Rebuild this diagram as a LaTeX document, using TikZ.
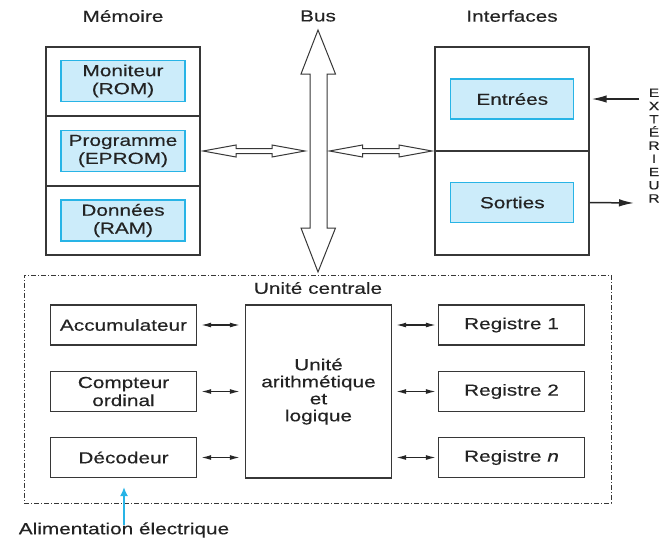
\documentclass[tikz,border=0pt]{standalone}
\usepackage{fontspec}
\setmainfont{Liberation Sans}[FakeStretch=1.3,FakeBold=0.35]
\usetikzlibrary{arrows.meta}
\definecolor{txt}{RGB}{35,35,35}
\definecolor{ln}{RGB}{55,55,55}
\definecolor{lblue}{RGB}{204,236,250}
\definecolor{cyanb}{RGB}{40,180,230}
\newcommand\hollowH[3]{%
  \draw[hollow] (#1,#3) -- ++(33,-6) -- ++(0,3.5) -- ({#2-33},{#3-2.5}) -- ++(0,-3.5)
    -- (#2,#3) -- ++(-33,6) -- ++(0,-3.5) -- ({#1+33},{#3+2.5}) -- ++(0,3.5) -- cycle;}
\begin{document}
\begin{tikzpicture}[x=1pt,y=-1pt,
  lbl/.style={text=txt, font=\fontsize{16}{18}\selectfont, inner sep=0pt, align=center},
  frame/.style={draw=ln, line width=1.3pt, minimum width=154pt, minimum height=208pt, inner sep=0pt},
  bluebox/.style={lbl, draw=cyanb, fill=lblue, line width=1.2pt, minimum width=124pt, minimum height=41pt},
  box/.style={lbl, draw=ln, line width=1.3pt, minimum width=146pt, minimum height=40pt},
  hollow/.style={draw=ln, fill=white, line width=1pt, line join=miter},
  sarrow/.style={draw=black!85, line width=1.3pt, {Latex[length=10pt,width=5pt]}-{Latex[length=10pt,width=5pt]}},
  earrow/.style={draw=black!85, line width=1.5pt, -{Latex[length=15pt,width=7.5pt]}}]
\useasboundingbox (0,0) rectangle (659,539);
\clip (0,0) rectangle (659,539);
% titles
\node[lbl] (tmem) at (123,16) {Mémoire};
\node[lbl] (tbus) at (318,16) {Bus};
\node[lbl] (tint) at (512,16) {Interfaces};
% memory
\node[frame] (mem) at (123,151) {};
\draw[ln, line width=1.3pt] (46,116) -- (200,116) (46,186) -- (200,186);
\node[bluebox] (mon) at (123,81) {Moniteur\\(ROM)};
\node[bluebox] (prog) at (123,151) {Programme\\(EPROM)};
\node[bluebox] (don) at (123,220.5) {Données\\(RAM)};
% interfaces
\node[frame] (int) at (512,151) {};
\draw[ln, line width=1.3pt] (int.west |- 0,151) -- (int.east |- 0,151);
\node[bluebox, minimum width=123pt, minimum height=40pt] (ent) at (512.3,99) {Entrées};
\node[bluebox, minimum width=123pt, minimum height=40pt] (sor) at (512.3,202.5) {Sorties};
% bus
\draw[hollow] (318,30) -- (335.5,74) -- (327,74) -- (327,228) -- (335.5,228) -- (318,272)
  -- (301,228) -- (310,228) -- (310,74) -- (301,74) -- cycle;
\hollowH{203}{305}{151}
\hollowH{329.5}{432}{151}
% exterior
\draw[earrow] (639,99) -- ([xshift=2pt]int.east |- ent.east);
\draw[earrow] (int.east |- sor.east) -- (634,203);
\node[text=txt, font=\fontsize{12}{13.2}\selectfont, inner sep=0pt, align=center, anchor=north] (ext) at (654,88.5)
  {E\\X\\T\\É\\R\\I\\E\\U\\R};
% central unit
\node[draw=ln, line width=1pt, dash pattern=on 5pt off 2pt on 1pt off 2pt,
  minimum width=587pt, minimum height=228pt, inner sep=0pt] (uc) at (317.5,389) {};
\node[lbl] (tuc) at (318,288) {Unité centrale};
\node[box] (acc) at (123.5,325) {Accumulateur};
\node[box] (cpt) at (123.5,391.5) {Compteur\\ordinal};
\node[box] (dec) at (123.5,457.5) {Décodeur};
\node[lbl, draw=ln, line width=1.3pt, minimum width=146pt, minimum height=173pt,
  font=\fontsize{16}{17}\selectfont] (alu) at (318.5,391.5) {Unité\\arithmétique\\et\\logique};
\node[box] (r1) at (511.5,325) {Registre 1};
\node[box] (r2) at (511.5,391.5) {Registre 2};
\node[box] (rn) at (511.5,457.5) {Registre \textit{n}};
\foreach \b in {acc,cpt,dec}
  \draw[sarrow] ([xshift=4pt]\b.east) -- ([xshift=-5pt]alu.west |- \b.east);
\foreach \b in {r1,r2,rn}
  \draw[sarrow] ([xshift=4pt]alu.east |- \b.west) -- ([xshift=-2pt]\b.west);
% power
\node[lbl] (alim) at (124,530) {Alimentation électrique};
\draw[cyanb, line width=2.2pt, -{Latex[length=9pt,width=8pt]}] ([yshift=-3pt]alim.north) -- (124,487);
\end{tikzpicture}
\end{document}
